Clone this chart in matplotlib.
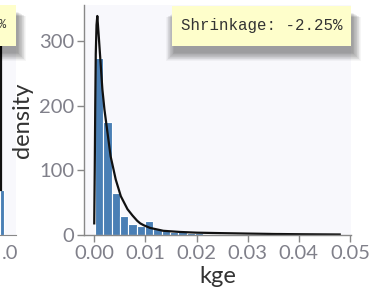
"""
Histogram of kge with density curve and shrinkage note.
"""

import numpy as np
import matplotlib.pyplot as plt
from matplotlib.patches import Rectangle

# histogram: 30 bins between these limits
bin_lo = 0.00014
bin_hi = 0.04904
bar_heights = [274, 175, 65, 30, 17, 14, 21, 9, 6, 5, 4, 3, 2.5, 2, 1.5,
               1.2, 1, 0.8, 0.6, 0.5, 0.4, 5, 0.3, 0.3, 0.2, 0, 0, 0, 0, 0.3]

# density curve
curve_x = [0.0000, 0.0001, 0.0002, 0.0003, 0.00045, 0.0006, 0.0009, 0.0016,
           0.0020, 0.0026, 0.0032, 0.0042, 0.0052, 0.0065, 0.0075, 0.0084,
           0.0090, 0.0097, 0.0109, 0.0135, 0.0168, 0.0201, 0.024, 0.030,
           0.035, 0.040, 0.048]
curve_y = [18, 100, 200, 280, 325, 339, 306, 225, 194, 158, 122, 86, 60, 40,
           30, 22, 18, 15, 11, 6.5, 4.7, 3.6, 3.0, 2.2, 1.6, 1.2, 0.8]

x_ticks = [0.00, 0.01, 0.02, 0.03, 0.04, 0.05]
x_tick_labels = ['0.00', '0.01', '0.02', '0.03', '0.04', '0.05']
y_ticks = [0, 100, 200, 300]

shrinkage_text = 'Shrinkage: -2.25%'

# neighbour panel, only its right edge shows
left_bar_x = [0.98]
left_bar_h = [70]
left_curve_x = [0.9775, 0.9775]
left_curve_y = [420, 70]
left_tick = [1.0225]
left_tick_label = ['.0']

W, H = 373, 299
plt.rcParams['font.family'] = ['Lato', 'DejaVu Sans']
fig = plt.figure(figsize=(W / 100, H / 100), dpi=100)

TICK_COL = '#80808a'
SPINE_COL = '#888888'
BG = '#f8f8fc'
BAR_COL = '#4a7fb5'


def px_box(x0, y0, x1, y1):
    # pixel rect (top-left origin) -> figure fraction [l, b, w, h]
    return [x0 / W, 1 - y1 / H, (x1 - x0) / W, (y1 - y0) / H]


def shadowed_box(x0, y0, x1, y1):
    for i in range(12):
        g = i * 1.2
        fig.add_artist(Rectangle(((x0 + 2 - g * 0.6) / W, 1 - (y1 + 7 + g * 0.6) / H),
                                 (x1 - x0 + g * 1.2) / W, (y1 - y0 + g * 0.3) / H,
                                 transform=fig.transFigure, facecolor='black',
                                 alpha=0.035, lw=0, zorder=5))
    fig.add_artist(Rectangle((x0 / W, 1 - y1 / H), (x1 - x0) / W, (y1 - y0) / H,
                             transform=fig.transFigure, facecolor='#fefecb',
                             lw=0, zorder=6))


# left neighbour panel
axl = fig.add_axes(px_box(-200, 5, 16, 235))
axl.set_facecolor(BG)
axl.bar(left_bar_x, left_bar_h, width=0.02, color=BAR_COL, edgecolor='white', lw=0.8)
axl.plot(left_curve_x, left_curve_y, color='#111111', lw=1.6)
axl.set_xlim(-0.03, 1.05)
axl.set_ylim(0, 356)
axl.set_xticks(left_tick)
axl.set_xticklabels(left_tick_label)
axl.set_yticks([])
for s in ['top', 'right', 'left']:
    axl.spines[s].set_visible(False)
axl.spines['bottom'].set_color(SPINE_COL)
axl.tick_params(axis='x', length=0, pad=7, labelsize=14.5, labelcolor=TICK_COL)

# main panel
ax = fig.add_axes(px_box(84, 5, 351, 235))
ax.set_facecolor(BG)
edges = np.linspace(bin_lo, bin_hi, len(bar_heights) + 1)
ax.bar(edges[:-1], bar_heights, width=np.diff(edges), align='edge',
       color=BAR_COL, edgecolor='white', lw=0.8)
ax.plot(curve_x, curve_y, color='#111111', lw=1.6)
ax.set_xlim(-0.002, 0.0502)
ax.set_ylim(0, 356)
ax.set_xticks(x_ticks)
ax.set_xticklabels(x_tick_labels)
ax.set_yticks(y_ticks)
for s in ['top', 'right']:
    ax.spines[s].set_visible(False)
for s in ['left', 'bottom']:
    ax.spines[s].set_color(SPINE_COL)
    ax.spines[s].set_linewidth(1)
ax.tick_params(length=5, width=1, color=SPINE_COL, labelcolor=TICK_COL,
               labelsize=14.5, pad=2)
ax.set_xlabel('kge', fontsize=17, color='#333333', labelpad=3)
ax.set_ylabel('density', fontsize=17, color='#333333', labelpad=4)

# annotation boxes
shadowed_box(-20, 5, 16, 46)
fig.text(6 / W, 1 - 25 / H, '%', ha='right', va='center',
         family='Liberation Mono', fontsize=8.5, color='#333333', zorder=7)
shadowed_box(172, 6, 351, 46)
fig.text(181 / W, 1 - 25.5 / H, shrinkage_text, ha='left', va='center',
         family='Liberation Mono', fontsize=11.3, color='#333333', zorder=7)

fig.savefig('out.png', dpi=100)
